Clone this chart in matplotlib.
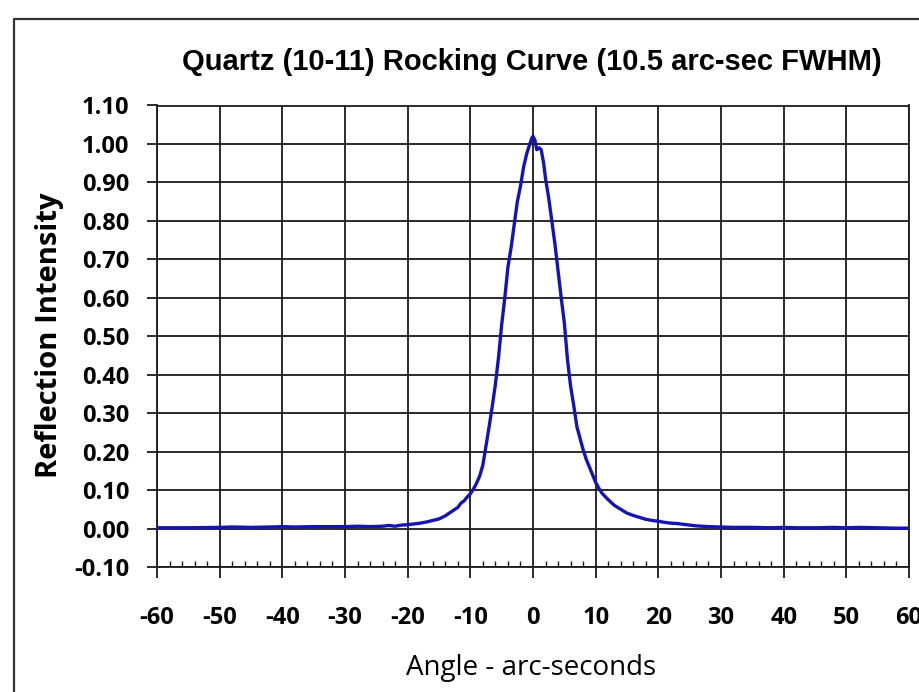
import numpy as np
import matplotlib
matplotlib.use('Agg')
import matplotlib.pyplot as plt
from matplotlib.ticker import MultipleLocator, FormatStrFormatter
plt.rcParams['axes.unicode_minus'] = False

# rocking curve (angle in arc-sec, intensity normalised)
angle = [-60, -55, -50, -48, -45, -42, -40, -38, -35, -32, -30, -28, -26, -24,
         -23, -22, -21, -20, -19, -18, -17, -16, -15, -14, -13, -12, -11.5,
         -11, -10.5, -10, -9.5, -9, -8.5, -8, -7.5, -7, -6.5, -6, -5.5, -5,
         -4.5, -4, -3.5, -3, -2.5, -2, -1.5, -1, -0.5, -0.2, 0, 0.3, 0.6, 1.0,
         1.3, 1.7, 2, 2.5, 3, 3.5, 4, 4.5, 5, 5.5, 6, 6.5, 7, 7.5, 8, 8.5, 9,
         9.5, 10, 10.5, 11, 12, 13, 14, 15, 16, 17, 18, 19, 20, 21, 22, 23, 24,
         25, 26, 27, 28, 30, 32, 35, 38, 40, 42, 45, 48, 50, 52, 55, 58, 60]
intensity = [0.002, 0.002, 0.003, 0.004, 0.003, 0.004, 0.005, 0.004, 0.005,
             0.005, 0.005, 0.006, 0.005, 0.006, 0.008, 0.006, 0.009, 0.010,
             0.012, 0.014, 0.017, 0.021, 0.025, 0.033, 0.044, 0.055, 0.066,
             0.072, 0.082, 0.090, 0.103, 0.118, 0.137, 0.165, 0.215, 0.265,
             0.318, 0.375, 0.445, 0.530, 0.600, 0.680, 0.730, 0.790, 0.850,
             0.890, 0.940, 0.975, 1.000, 1.015, 1.020, 1.010, 0.985, 0.990,
             0.985, 0.950, 0.910, 0.860, 0.800, 0.740, 0.670, 0.600, 0.535,
             0.440, 0.370, 0.320, 0.265, 0.235, 0.205, 0.180, 0.160, 0.140,
             0.120, 0.105, 0.092, 0.075, 0.060, 0.050, 0.040, 0.034, 0.029,
             0.024, 0.021, 0.019, 0.016, 0.014, 0.013, 0.011, 0.009, 0.007,
             0.006, 0.005, 0.004, 0.003, 0.003, 0.002, 0.003, 0.002, 0.002,
             0.003, 0.002, 0.003, 0.002, 0.001, 0.001]

tick_font = ['Open Sans', 'DejaVu Sans']
title_font = ['Liberation Sans Narrow', 'Liberation Sans', 'DejaVu Sans']

fig = plt.figure(figsize=(9.19, 6.92), dpi=100)
ax = fig.add_axes([157/919, 1 - 567/692, (909 - 157)/919, (567 - 105.5)/692])

ax.plot(angle, intensity, color='#1414b4', lw=2.4, zorder=3)

ax.set_xlim(-60, 60)
ax.set_ylim(-0.10, 1.10)
ax.xaxis.set_major_locator(MultipleLocator(10))
ax.xaxis.set_minor_locator(MultipleLocator(2))
ax.yaxis.set_major_locator(MultipleLocator(0.1))
ax.yaxis.set_major_formatter(FormatStrFormatter('%.2f'))
ax.grid(True, which='major', color='#1a1a1a', lw=1.3)

for s in ax.spines.values():
    s.set_color('#1a1a1a')
    s.set_linewidth(1.3)

ax.tick_params(axis='y', which='major', direction='out', length=7, width=1.3,
               pad=13, color='#1a1a1a')
ax.tick_params(axis='x', which='major', direction='out', length=8, width=1.3,
               pad=20, color='#1a1a1a')
ax.tick_params(axis='x', which='minor', direction='in', length=4, width=1.0,
               color='#1a1a1a')

for lab in ax.get_xticklabels() + ax.get_yticklabels():
    lab.set_family(tick_font)
    lab.set_fontsize(17)
    lab.set_fontweight('bold')

fig.text(532/919, 1 - 62/692, 'Quartz (10-11) Rocking Curve (10.5 arc-sec FWHM)',
         ha='center', va='center', fontsize=21, fontweight='bold', family=title_font)
fig.text(50/919, 1 - 335/692, 'Reflection Intensity', rotation=90,
         ha='center', va='center', fontsize=21, fontweight='bold', family=tick_font)
fig.text(531/919, 1 - 668/692, 'Angle - arc-seconds', ha='center', va='center',
         fontsize=20, family=tick_font)

# outer chart border
fig.add_artist(plt.Line2D([14/919, 14/919, 1.0], [0.0, 1 - 19/692, 1 - 19/692],
                          transform=fig.transFigure, color='#333333', lw=1.6))

fig.savefig('out.png', dpi=100)
